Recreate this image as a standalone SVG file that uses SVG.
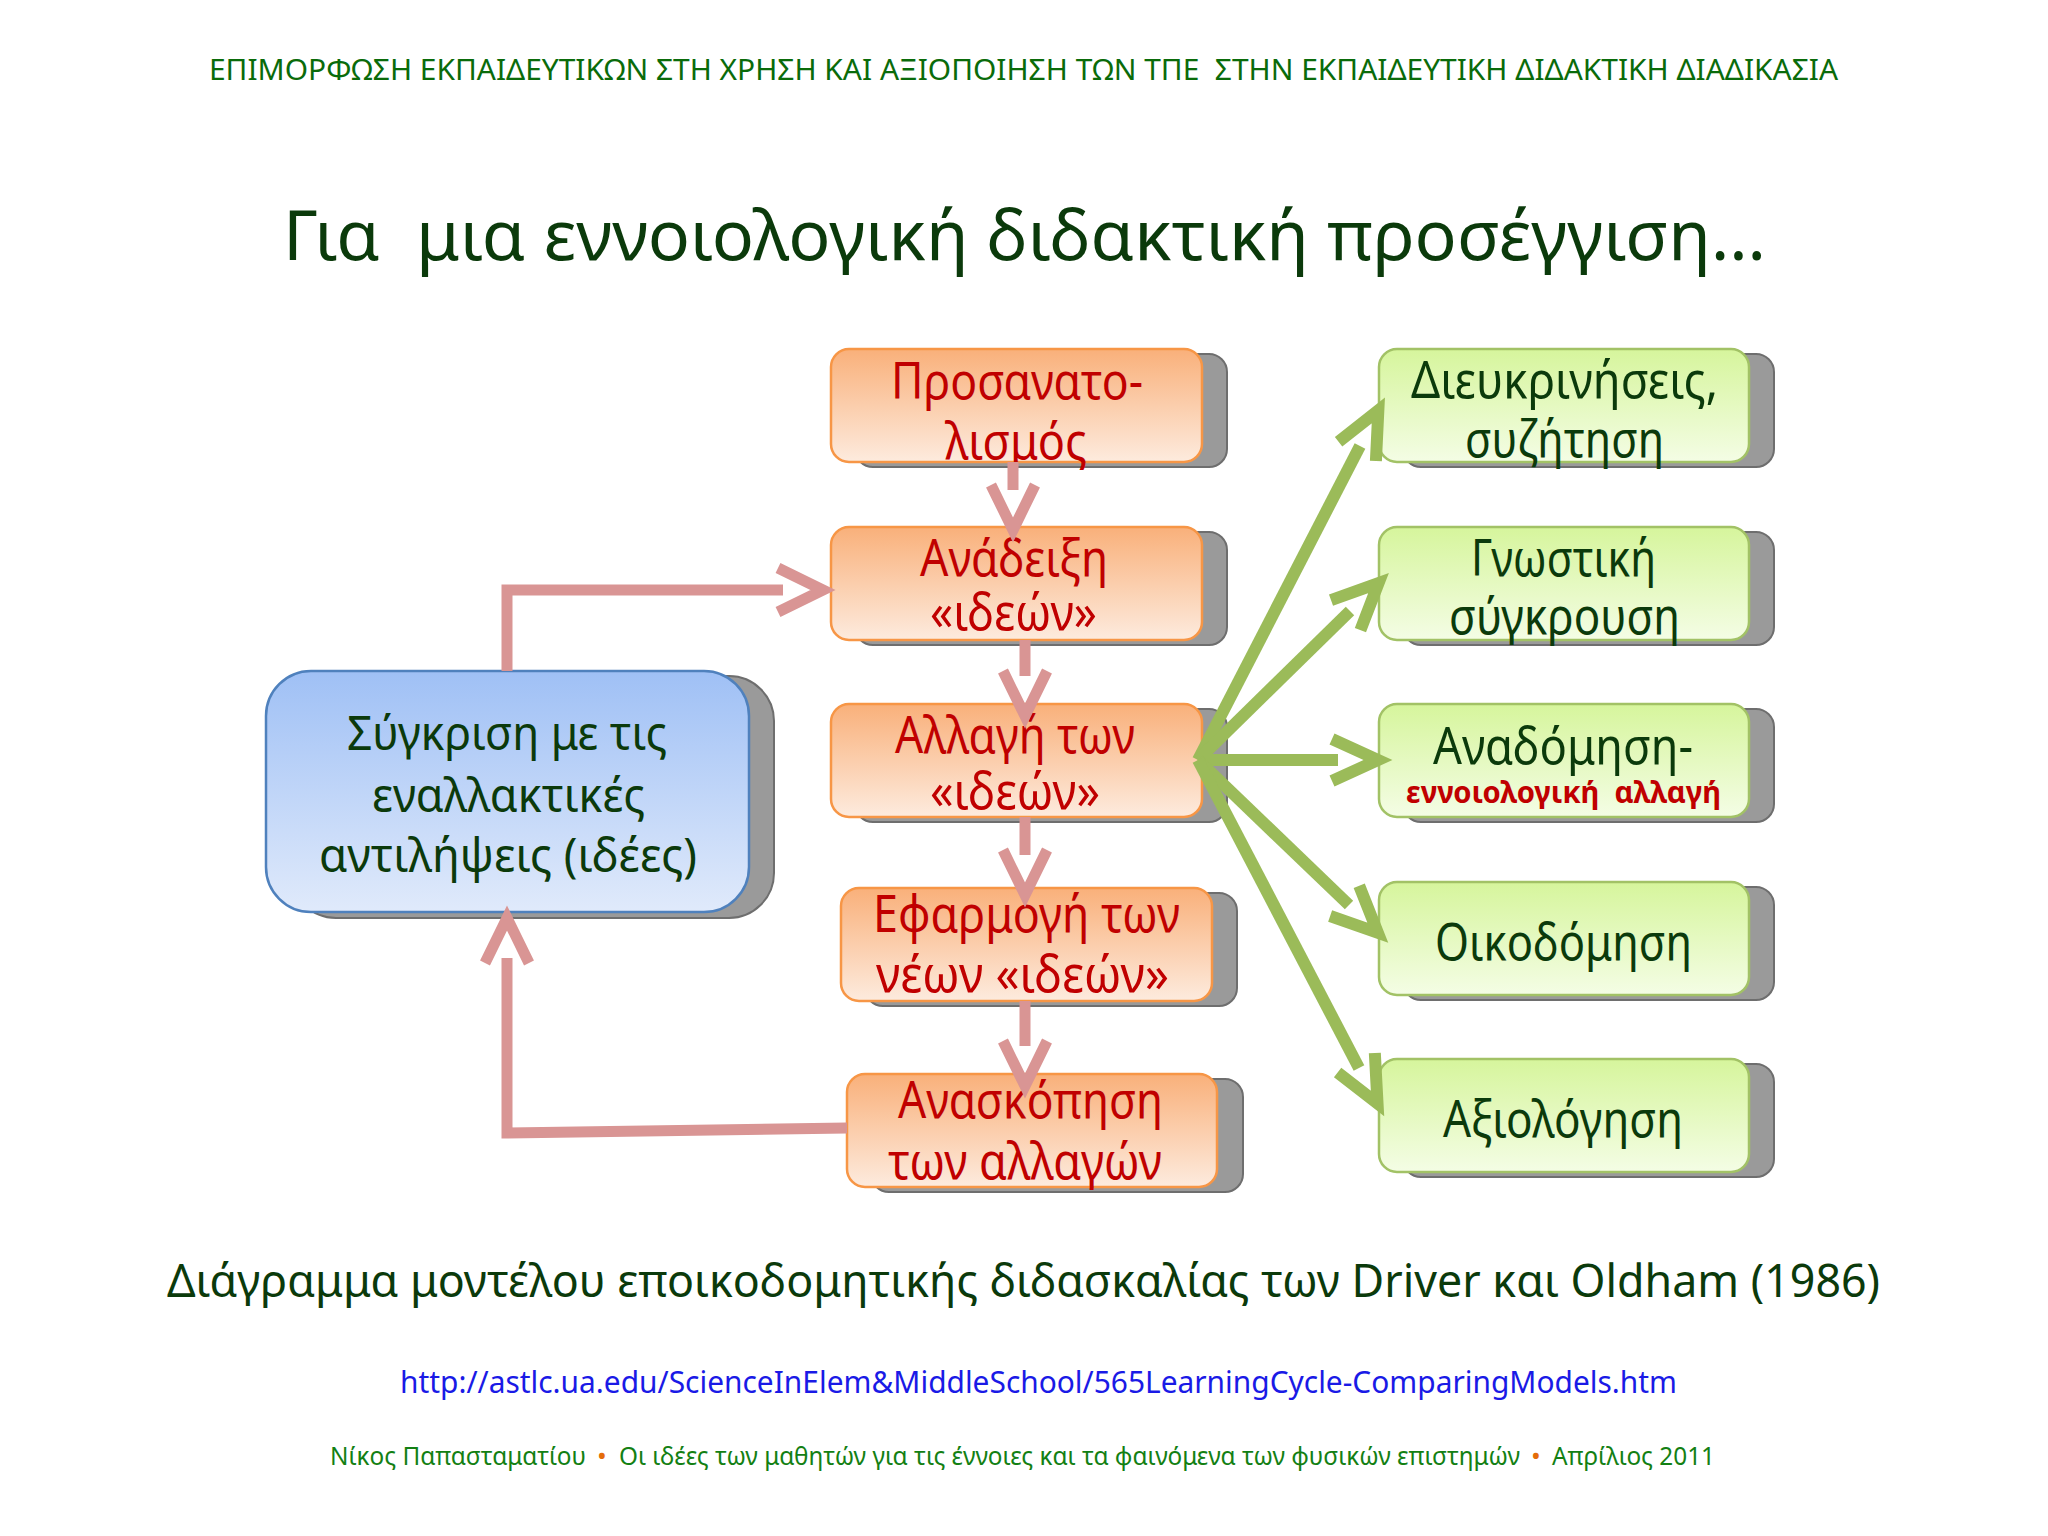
<svg xmlns="http://www.w3.org/2000/svg" width="2048" height="1536" viewBox="0 0 2048 1536">
<defs>
  <linearGradient id="gOrange" x1="0" y1="0" x2="0" y2="1">
    <stop offset="0" stop-color="#f9b07a"/>
    <stop offset="1" stop-color="#fdebde"/>
  </linearGradient>
  <linearGradient id="gGreen" x1="0" y1="0" x2="0" y2="1">
    <stop offset="0" stop-color="#d6f59c"/>
    <stop offset="1" stop-color="#f4fde5"/>
  </linearGradient>
  <linearGradient id="gBlue" x1="0" y1="0" x2="0" y2="1">
    <stop offset="0" stop-color="#9fc0f5"/>
    <stop offset="1" stop-color="#e0eafb"/>
  </linearGradient>
  <marker id="headPink" markerUnits="userSpaceOnUse" orient="auto" markerWidth="10" markerHeight="10" refX="0" refY="0" style="overflow:visible">
    <path d="M-5,-22 L40,0 L-5,22" fill="none" stroke="#d99594" stroke-width="11" stroke-miterlimit="10"/>
  </marker>
  <marker id="headGreen" markerUnits="userSpaceOnUse" orient="auto" markerWidth="10" markerHeight="10" refX="0" refY="0" style="overflow:visible">
    <path d="M-6,-21 L40,0 L-6,21" fill="none" stroke="#9bbb59" stroke-width="12" stroke-miterlimit="10"/>
  </marker>
</defs>
<style>
  text{font-family:"Noto Sans","Open Sans","DejaVu Sans",sans-serif}
  .shadow{fill:#9a9a9a;stroke:#6e6e6e;stroke-width:2}
  .bo{fill:url(#gOrange);stroke:#f79646;stroke-width:2.5}
  .bg{fill:url(#gGreen);stroke:#a2c266;stroke-width:2.5}
  .bb{fill:url(#gBlue);stroke:#4f81bd;stroke-width:2.5}
  .tOr{font-size:51px;fill:#c00000}
  .tGr{font-size:51px;fill:#0b3a0b}
  .tBl{font-size:47px;fill:#0b3a0b}
  .tSub{font-size:30px;font-weight:bold;fill:#c00000}
  .cPink{fill:none;stroke:#d99594;stroke-width:11;marker-end:url(#headPink)}
  .cGreen{fill:none;stroke:#9bbb59;stroke-width:12;marker-end:url(#headGreen)}
</style>
<rect x="0" y="0" width="2048" height="1536" fill="#ffffff"/>

<g id="header">
  <text x="209" y="80" font-size="29" fill="#0a6b0a" textLength="1629" lengthAdjust="spacingAndGlyphs" xml:space="preserve">ΕΠΙΜΟΡΦΩΣΗ ΕΚΠΑΙΔΕΥΤΙΚΩΝ ΣΤΗ ΧΡΗΣΗ ΚΑΙ ΑΞΙΟΠΟΙΗΣΗ ΤΩΝ ΤΠΕ  ΣΤΗΝ ΕΚΠΑΙΔΕΥΤΙΚΗ ΔΙΔΑΚΤΙΚΗ ΔΙΑΔΙΚΑΣΙΑ</text>
  <text x="283" y="260" font-size="70" fill="#0b3a0b" textLength="1483" lengthAdjust="spacingAndGlyphs" xml:space="preserve">Για  μια εννοιολογική διδακτική προσέγγιση…</text>
</g>

<g id="node-prosanatolismos">
  <rect class="shadow" x="855" y="354" width="372" height="113" rx="18"/>
  <rect class="bo" x="831" y="349" width="371" height="113" rx="18"/>
  <text class="tOr"><tspan x="891" y="399" textLength="252" lengthAdjust="spacingAndGlyphs">Προσανατο-</tspan><tspan x="945" y="459" textLength="142" lengthAdjust="spacingAndGlyphs">λισμός</tspan></text>
</g>
<g id="node-anadeixi">
  <rect class="shadow" x="855" y="532" width="372" height="113" rx="18"/>
  <rect class="bo" x="831" y="527" width="371" height="113" rx="18"/>
  <text class="tOr"><tspan x="920" y="576" textLength="188" lengthAdjust="spacingAndGlyphs">Ανάδειξη</tspan><tspan x="930" y="630" textLength="167" lengthAdjust="spacingAndGlyphs">«ιδεών»</tspan></text>
</g>
<g id="node-allagi">
  <rect class="shadow" x="855" y="709" width="372" height="113" rx="18"/>
  <rect class="bo" x="831" y="704" width="371" height="113" rx="18"/>
  <text class="tOr"><tspan x="895" y="753" textLength="240" lengthAdjust="spacingAndGlyphs">Αλλαγή των</tspan><tspan x="930" y="809" textLength="170" lengthAdjust="spacingAndGlyphs">«ιδεών»</tspan></text>
</g>
<g id="node-efarmogi">
  <rect class="shadow" x="865" y="893" width="372" height="113" rx="18"/>
  <rect class="bo" x="841" y="888" width="371" height="113" rx="18"/>
  <text class="tOr"><tspan x="873" y="932" textLength="307" lengthAdjust="spacingAndGlyphs">Εφαρμογή των</tspan><tspan x="876" y="992" textLength="293" lengthAdjust="spacingAndGlyphs">νέων «ιδεών»</tspan></text>
</g>
<g id="node-anaskopisi">
  <rect class="shadow" x="871" y="1079" width="372" height="113" rx="18"/>
  <rect class="bo" x="847" y="1074" width="370" height="113" rx="18"/>
  <text class="tOr"><tspan x="898" y="1118" textLength="265" lengthAdjust="spacingAndGlyphs">Ανασκόπηση</tspan><tspan x="888" y="1179" textLength="274" lengthAdjust="spacingAndGlyphs">των αλλαγών</tspan></text>
</g>

<g id="node-sygkrisi">
  <rect class="shadow" x="291" y="676" width="483" height="242" rx="45"/>
  <rect class="bb" x="266" y="671" width="483" height="241" rx="45"/>
  <text class="tBl"><tspan x="347" y="750" textLength="320" lengthAdjust="spacingAndGlyphs">Σύγκριση με τις</tspan><tspan x="372" y="812" textLength="273" lengthAdjust="spacingAndGlyphs">εναλλακτικές</tspan><tspan x="319" y="872" textLength="378" lengthAdjust="spacingAndGlyphs">αντιλήψεις (ιδέες)</tspan></text>
</g>

<g id="node-dieukriniseis">
  <rect class="shadow" x="1403" y="354" width="371" height="113" rx="18"/>
  <rect class="bg" x="1379" y="349" width="370" height="113" rx="18"/>
  <text class="tGr"><tspan x="1411" y="398" textLength="307" lengthAdjust="spacingAndGlyphs">Διευκρινήσεις,</tspan><tspan x="1465" y="457" textLength="199" lengthAdjust="spacingAndGlyphs">συζήτηση</tspan></text>
</g>
<g id="node-gnostiki">
  <rect class="shadow" x="1403" y="532" width="371" height="113" rx="18"/>
  <rect class="bg" x="1379" y="527" width="370" height="113" rx="18"/>
  <text class="tGr"><tspan x="1471" y="576" textLength="185" lengthAdjust="spacingAndGlyphs">Γνωστική</tspan><tspan x="1449" y="634" textLength="231" lengthAdjust="spacingAndGlyphs">σύγκρουση</tspan></text>
</g>
<g id="node-anadomisi">
  <rect class="shadow" x="1403" y="709" width="371" height="113" rx="18"/>
  <rect class="bg" x="1379" y="704" width="370" height="113" rx="18"/>
  <text><tspan class="tGr" x="1433" y="764" textLength="260" lengthAdjust="spacingAndGlyphs">Αναδόμηση-</tspan><tspan class="tSub" x="1406" y="803" textLength="315" lengthAdjust="spacingAndGlyphs" xml:space="preserve">εννοιολογική  αλλαγή</tspan></text>
</g>
<g id="node-oikodomisi">
  <rect class="shadow" x="1403" y="887" width="371" height="113" rx="18"/>
  <rect class="bg" x="1379" y="882" width="370" height="113" rx="18"/>
  <text class="tGr" x="1435" y="960" textLength="257" lengthAdjust="spacingAndGlyphs">Οικοδόμηση</text>
</g>
<g id="node-axiologisi">
  <rect class="shadow" x="1403" y="1064" width="371" height="113" rx="18"/>
  <rect class="bg" x="1379" y="1059" width="370" height="113" rx="18"/>
  <text class="tGr" x="1443" y="1137" textLength="240" lengthAdjust="spacingAndGlyphs">Αξιολόγηση</text>
</g>

<g id="connectors">
  <path class="cPink" d="M1013,462 V490"/>
  <path class="cPink" d="M1025,640 V676"/>
  <path class="cPink" d="M1025,817 V855"/>
  <path class="cPink" d="M1025,1001 V1046"/>
  <path class="cPink" d="M507,671 V590 H783"/>
  <path class="cPink" d="M847,1128 L507,1133 V958"/>
  <path class="cGreen" d="M1198,760 L1360,446"/>
  <path class="cGreen" d="M1198,760 L1350,611"/>
  <path class="cGreen" d="M1198,760 L1338,760"/>
  <path class="cGreen" d="M1198,760 L1349,905"/>
  <path class="cGreen" d="M1198,760 L1359,1068"/>
</g>

<g id="footer">
  <text x="167" y="1297" font-size="45" fill="#0b3a0b" textLength="1713" lengthAdjust="spacingAndGlyphs">Διάγραμμα μοντέλου εποικοδομητικής διδασκαλίας των Driver και Oldham (1986)</text>
  <text x="400" y="1393" font-size="31" fill="#1a1ae6" textLength="1277" lengthAdjust="spacingAndGlyphs">http://astlc.ua.edu/ScienceInElem&amp;MiddleSchool/565LearningCycle-ComparingModels.htm</text>
  <text font-size="26" fill="#138013"><tspan x="330" y="1465" textLength="256" lengthAdjust="spacingAndGlyphs">Νίκος Παπασταματίου</tspan><tspan x="597" y="1465" fill="#e46c0a">•</tspan><tspan x="619" y="1465" textLength="901" lengthAdjust="spacingAndGlyphs">Οι ιδέες των μαθητών για τις έννοιες και τα φαινόμενα των φυσικών επιστημών</tspan><tspan x="1531" y="1465" fill="#e46c0a">•</tspan><tspan x="1552" y="1465" textLength="163" lengthAdjust="spacingAndGlyphs">Απρίλιος 2011</tspan></text>
</g>
</svg>
